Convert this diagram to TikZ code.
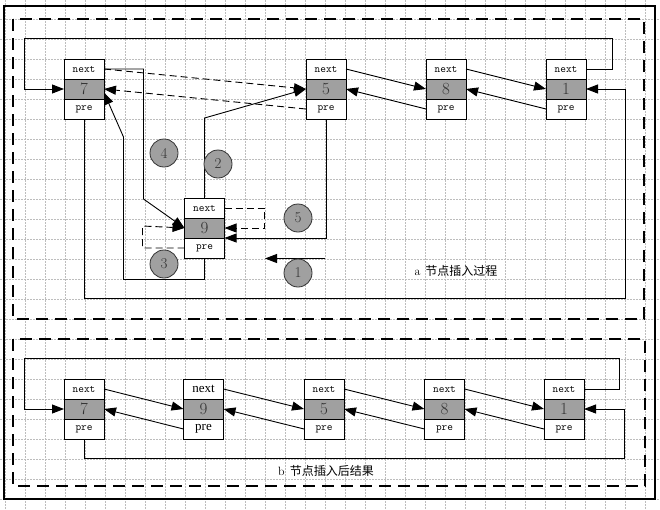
\documentclass[tikz,border=0pt]{standalone}
\usepackage{fontspec}
\newfontfamily\cjkfont{Noto Sans CJK SC}
\newfontfamily\timesfont{Liberation Serif}
\usetikzlibrary{arrows.meta}
\definecolor{valgray}{HTML}{A0A0A0}
\definecolor{numgray}{HTML}{333333}
\definecolor{gridgray}{HTML}{BDBDBD}
\tikzset{
  cell/.style={draw, line width=0.8pt, fill=white, minimum width=40pt, minimum height=20pt,
    inner sep=0pt, outer sep=0pt, font=\ttfamily\fontsize{11}{11}\selectfont},
  cellb/.style={cell, font=\timesfont\fontsize{13}{13}\selectfont},
  valcell/.style={cell, fill=valgray, text=numgray, font=\fontsize{17}{17}\selectfont},
  numcirc/.style={circle, draw=numgray, fill=valgray, line width=0.8pt, minimum size=28pt,
    inner sep=0pt, text=numgray, font=\fontsize{15}{15}\selectfont},
  conn/.style={line width=0.9pt},
  arr/.style={conn, -{Triangle[length=12pt,width=9pt]}},
  darr/.style={arr, dash pattern=on 7pt off 4pt},
  gridline/.style={gridgray, line width=0.6pt, dash pattern=on 1.5pt off 1.5pt},
  outerframe/.style={line width=1.6pt},
  dashframe/.style={line width=1.6pt, dash pattern=on 12pt off 7pt},
  caption/.style={inner sep=0pt, font=\fontsize{12}{12}\selectfont}
}
% name, x centre, y top, value
\newcommand\listnode[5][cell]{%
  \node[#1] (#2n) at (#3,#4+10) {next};
  \node[valcell] (#2v) at (#3,#4+30) {#5};
  \node[#1] (#2p) at (#3,#4+50) {pre};
}
\begin{document}
\begin{tikzpicture}[x=1pt,y=-1pt]
\useasboundingbox (0,0) rectangle (660,509);
\fill[white] (0,0) rectangle (660,509);
% grid
\foreach \gx in {5,25,...,645} \draw[gridline] (\gx,0) -- (\gx,509);
\foreach \gy in {19,39,...,499} \draw[gridline] (0,\gy) -- (660,\gy);
% frames
\draw[outerframe] (4,6) rectangle (655,499);
\draw[dashframe] (13,19) rectangle (644,319);
\draw[dashframe] (13,339) rectangle (645,486);

% ---------------- part a ----------------
\listnode{A7}{84}{59}{7}
\listnode{A5}{326}{59}{5}
\listnode{A8}{446}{59}{8}
\listnode{A1}{566}{59}{1}
\listnode{A9}{204.5}{198}{9}

\draw[arr] (A1n.east) -| (612.5,38.5) -- (24.5,38.5) |- (A7v.west);
\draw[arr] (A7p.south) |- (625.5,298.5) |- (A1v.east);
\draw[darr] (A7n.east) -- (A5v.west);
\draw[darr] (A5p.west) -- (A7v.east);
\draw[arr] (A5n.east) -- (A8v.west);
\draw[arr] (A8p.west) -- (A5v.east);
\draw[arr] (A8n.east) -- (A1v.west);
\draw[arr] (A1p.west) -- (A8v.east);
\draw[arr] (A7n.east) -| (143.5,199) -- (A9v.west);
\draw[arr] (A9n.north) -- (204.5,118) -- (A5v.west);
\draw[arr] (A9p.south) |- (123.5,279.5) -- (123.5,137) -- (A7v.-10);
\draw[darr] (A9n.east) -| (264.5,228) -- (A9v.east);
\draw[darr] (A9p.west) -| (142.5,226) -- (A9v.west);
\draw[arr] (A5p.south) |- (A9v.south east);
\coordinate (a1s) at (325,258.5);
\coordinate (a1e) at (265,258.5);
\draw[arr] (a1s) -- (a1e);

\node[numcirc] (c4) at (164,153) {4};
\node[numcirc] (c2) at (218,164) {2};
\node[numcirc] (c5) at (298,218) {5};
\node[numcirc] (c3) at (164,264) {3};
\node[numcirc] (c1) at (298,273) {1};

\node[caption] (capa) at (456,271) {a\hspace{5pt}{\cjkfont 节点插入过程}};

% ---------------- part b ----------------
\listnode{B7}{84}{379}{7}
\listnode[cellb]{B9}{203.5}{379}{9}
\listnode{B5}{324}{379}{5}
\listnode{B8}{444.5}{379}{8}
\listnode{B1}{564}{379}{1}

\draw[arr] (B1n.east) -| (619.5,358.5) -- (24.5,358.5) |- (B7v.west);
\draw[arr] (B7p.south) |- (624.5,458.5) |- (B1v.east);
\draw[arr] (B7n.east) -- (B9v.west);
\draw[arr] (B9p.west) -- (B7v.east);
\draw[arr] (B9n.east) -- (B5v.west);
\draw[arr] (B5p.west) -- (B9v.east);
\draw[arr] (B5n.east) -- (B8v.west);
\draw[arr] (B8p.west) -- (B5v.east);
\draw[arr] (B8n.east) -- (B1v.west);
\draw[arr] (B1p.west) -- (B8v.east);

\node[caption] (capb) at (326,471) {b\hspace{5pt}{\cjkfont 节点插入后结果}};
\end{tikzpicture}
\end{document}
